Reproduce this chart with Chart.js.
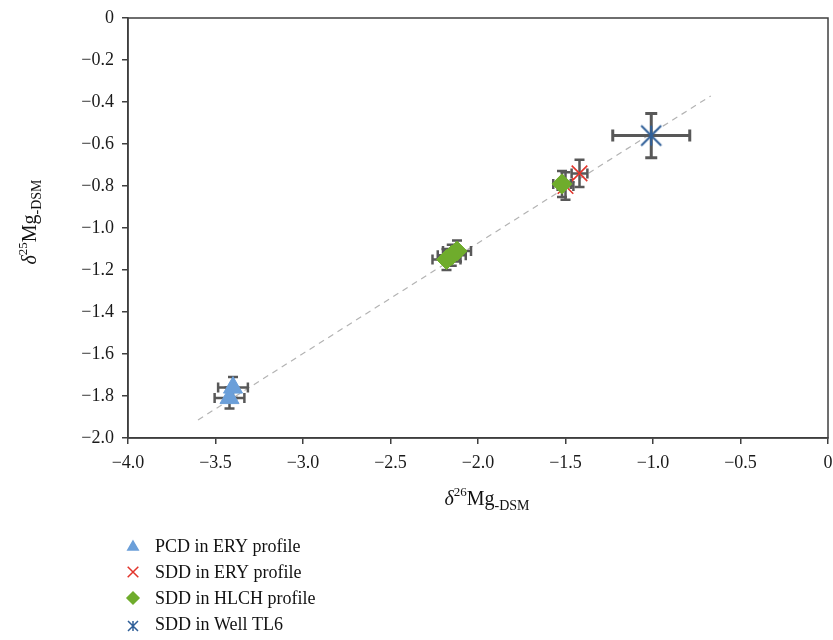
<!DOCTYPE html>
<html>
<head>
<meta charset="utf-8">
<script src="https://cdn.jsdelivr.net/npm/chart.js@4/dist/chart.umd.min.js"></script>
<style>
  html, body { margin: 0; padding: 0; background: #fff; }
  #wrap { position: relative; width: 833px; height: 640px; }
</style>
</head>
<body>
<div id="wrap"><canvas id="c" width="833" height="640"></canvas></div>
<script>
// Axis ticks
const xTicks = [-4.0, -3.5, -3.0, -2.5, -2.0, -1.5, -1.0, -0.5, 0];
const yTicks = [0, -0.2, -0.4, -0.6, -0.8, -1.0, -1.2, -1.4, -1.6, -1.8, -2.0];

// Series names (legend order)
const seriesNames = ['PCD in ERY profile', 'SDD in ERY profile', 'SDD in HLCH profile', 'SDD in Well TL6'];

// PCD in ERY profile
const pcdX = [-3.40, -3.42];
const pcdY = [-1.76, -1.81];
const pcdXErr = [0.085, 0.085];
const pcdYErr = [0.05, 0.05];

// SDD in ERY profile
const eryX = [-1.42, -1.50];
const eryY = [-0.74, -0.80];
const eryXErr = [0.045, 0.045];
const eryYErr = [0.065, 0.065];

// SDD in HLCH profile
const hlchX = [-2.18, -2.15, -2.12, -1.52];
const hlchY = [-1.15, -1.13, -1.11, -0.79];
const hlchXErr = [0.08, 0.08, 0.08, 0.05];
const hlchYErr = [0.05, 0.05, 0.05, 0.062];

// SDD in Well TL6
const wellX = [-1.01];
const wellY = [-0.56];
const wellXErr = [0.22];
const wellYErr = [0.105];

// Fractionation trend line
const fitX = [-3.6, -0.67];
const fitY = [-1.914, -0.371];

const FONT = '"Liberation Serif", "DejaVu Serif", serif';
const AXIS = '#3f3f3f';
const ERR = '#585858';

const toPoints = (xs, ys) => xs.map((x, i) => ({ x: x, y: ys[i] }));
const fmt = v => (Math.abs(v) < 1e-9 ? '0' : (v < 0 ? '\u2212' : '') + Math.abs(v).toFixed(1));

// Asterisk marker: diagonal cross plus a vertical stroke
function makeAsterisk(size, color, lw) {
  const c = document.createElement('canvas');
  c.width = size; c.height = size;
  const g = c.getContext('2d');
  const m = size / 2, a = size / 2 - 2;
  g.strokeStyle = color; g.lineWidth = lw; g.lineCap = 'butt';
  g.beginPath();
  g.moveTo(m - a, m - a); g.lineTo(m + a, m + a);
  g.moveTo(m - a, m + a); g.lineTo(m + a, m - a);
  g.moveTo(m, m - a); g.lineTo(m, m + a);
  g.stroke();
  return c;
}
const wellMarker = makeAsterisk(24, '#2f5f98', 2);

const datasets = [
  {
    type: 'line', label: 'trend', data: toPoints(fitX, fitY),
    borderColor: '#b3b3b3', borderWidth: 1.2, borderDash: [6, 5],
    pointRadius: 0, fill: false, order: 10
  },
  {
    label: seriesNames[0], data: toPoints(pcdX, pcdY), xErr: pcdXErr, yErr: pcdYErr,
    pointStyle: 'triangle', pointRadius: 11, backgroundColor: '#6b9fd9', borderColor: '#6b9fd9',
    borderWidth: 1, order: 4, errW: 2.5, cap: 5
  },
  {
    label: seriesNames[1], data: toPoints(eryX, eryY), xErr: eryXErr, yErr: eryYErr,
    pointStyle: 'crossRot', pointRadius: 11, borderColor: '#e2342b', backgroundColor: '#e2342b',
    borderWidth: 1.6, order: 3, errW: 2.5, cap: 5
  },
  {
    label: seriesNames[2], data: toPoints(hlchX, hlchY), xErr: hlchXErr, yErr: hlchYErr,
    pointStyle: 'rectRot', pointRadius: 10, backgroundColor: '#6fac2c', borderColor: '#6fac2c',
    borderWidth: 1, order: 2, errW: 2.5, cap: 5
  },
  {
    label: seriesNames[3], data: toPoints(wellX, wellY), xErr: wellXErr, yErr: wellYErr,
    pointStyle: wellMarker, pointRadius: 12, borderColor: '#2f5f98', backgroundColor: '#2f5f98',
    order: 1, errW: 3, cap: 6
  }
];

// Error bars are drawn right before each series' markers
const errorBars = {
  id: 'errorBars',
  beforeDatasetDraw(chart, args) {
    const ds = chart.data.datasets[args.index];
    if (!ds.xErr) return;
    const ctx = chart.ctx, xs = chart.scales.x, ys = chart.scales.y;
    ctx.save();
    ctx.strokeStyle = ERR;
    ctx.lineWidth = ds.errW;
    ctx.lineCap = 'butt';
    ds.data.forEach((p, i) => {
      const px = xs.getPixelForValue(p.x), py = ys.getPixelForValue(p.y);
      const x0 = xs.getPixelForValue(p.x - ds.xErr[i]), x1 = xs.getPixelForValue(p.x + ds.xErr[i]);
      const y0 = ys.getPixelForValue(p.y - ds.yErr[i]), y1 = ys.getPixelForValue(p.y + ds.yErr[i]);
      const c = ds.cap;
      ctx.beginPath();
      ctx.moveTo(x0, py); ctx.lineTo(x1, py);
      ctx.moveTo(x0, py - c); ctx.lineTo(x0, py + c);
      ctx.moveTo(x1, py - c); ctx.lineTo(x1, py + c);
      ctx.moveTo(px, y0); ctx.lineTo(px, y1);
      ctx.moveTo(px - c, y0); ctx.lineTo(px + c, y0);
      ctx.moveTo(px - c, y1); ctx.lineTo(px + c, y1);
      ctx.stroke();
    });
    ctx.restore();
  }
};

// Draws "δ{sup}Mg{sub}" on baseline y, centred on x
function drawIsoLabel(ctx, sup, x, y) {
  const parts = [
    { t: '\u03B4', f: 'italic 20px ' + FONT, dy: 0 },
    { t: sup, f: '13px ' + FONT, dy: -9 },
    { t: 'Mg', f: '20px ' + FONT, dy: 0 },
    { t: '-DSM', f: '14px ' + FONT, dy: 5 }
  ];
  let total = 0;
  parts.forEach(p => { ctx.font = p.f; p.w = ctx.measureText(p.t).width; total += p.w; });
  let cx = x - total / 2;
  ctx.textAlign = 'left';
  ctx.textBaseline = 'alphabetic';
  parts.forEach(p => { ctx.font = p.f; ctx.fillText(p.t, cx, y + p.dy); cx += p.w; });
}

const decorations = {
  id: 'decorations',
  afterDraw(chart) {
    const ctx = chart.ctx, a = chart.chartArea;
    ctx.save();
    // plot frame
    ctx.strokeStyle = AXIS;
    ctx.lineWidth = 1.5;
    ctx.strokeRect(a.left, a.top, a.right - a.left, a.bottom - a.top);

    // axis titles
    ctx.fillStyle = '#111';
    drawIsoLabel(ctx, '26', 487, 505);
    ctx.save();
    ctx.translate(36, 222);
    ctx.rotate(-Math.PI / 2);
    drawIsoLabel(ctx, '25', 0, 0);
    ctx.restore();

    // legend
    const rows = [546, 572, 598, 624];
    const mx = 133, tx = 155;
    chart.data.datasets.filter(d => d.xErr).forEach((d, i) => {
      const y = rows[i];
      ctx.save();
      ctx.fillStyle = d.backgroundColor;
      ctx.strokeStyle = d.borderColor;
      if (d.pointStyle === 'triangle') {
        Chart.helpers.drawPoint(ctx, { pointStyle: 'triangle', radius: 6, borderWidth: 1, rotation: 0 }, mx, y + 1);
      } else if (d.pointStyle === 'crossRot') {
        ctx.lineWidth = 1.5;
        Chart.helpers.drawPoint(ctx, { pointStyle: 'crossRot', radius: 7.5, borderWidth: 1.5, rotation: 0 }, mx, y);
      } else if (d.pointStyle === 'rectRot') {
        Chart.helpers.drawPoint(ctx, { pointStyle: 'rectRot', radius: 6, borderWidth: 1, rotation: 0 }, mx, y);
      } else {
        ctx.drawImage(makeAsterisk(14, d.borderColor, 1.5), mx - 7, y - 7 + 2);
      }
      ctx.restore();
      ctx.fillStyle = '#111';
      ctx.font = '18px ' + FONT;
      ctx.textAlign = 'left';
      ctx.textBaseline = 'middle';
      ctx.fillText(d.label, tx, y + 1);
    });
    ctx.restore();
  }
};

new Chart(document.getElementById('c'), {
  type: 'scatter',
  data: { datasets: datasets },
  options: {
    responsive: false,
    animation: false,
    devicePixelRatio: 1,
    layout: { autoPadding: false, padding: { top: 18, right: 5, left: 0, bottom: 0 } },
    plugins: { legend: { display: false }, tooltip: { enabled: false } },
    scales: {
      x: {
        type: 'linear', min: -4, max: 0,
        afterBuildTicks: s => { s.ticks = xTicks.map(v => ({ value: v })); },
        afterFit: s => { s.height = 202; s.paddingLeft = 0; s.paddingRight = 0; },
        ticks: { callback: v => fmt(v), color: '#1a1a1a', font: { family: FONT, size: 18 }, padding: 8, maxRotation: 0 },
        grid: { display: true, drawOnChartArea: false, drawTicks: true, tickLength: 6, color: AXIS, lineWidth: 1.5 },
        border: { display: true, color: AXIS, width: 1.5 }
      },
      y: {
        type: 'linear', min: -2, max: 0,
        afterBuildTicks: s => { s.ticks = yTicks.map(v => ({ value: v })); },
        afterFit: s => { s.width = 128; s.paddingTop = 0; s.paddingBottom = 0; },
        ticks: { callback: v => fmt(v), color: '#1a1a1a', font: { family: FONT, size: 18 }, padding: 8 },
        grid: { display: true, drawOnChartArea: false, drawTicks: true, tickLength: 6, color: AXIS, lineWidth: 1.5 },
        border: { display: true, color: AXIS, width: 1.5 }
      }
    }
  },
  plugins: [errorBars, decorations]
});
</script>
</body>
</html>
